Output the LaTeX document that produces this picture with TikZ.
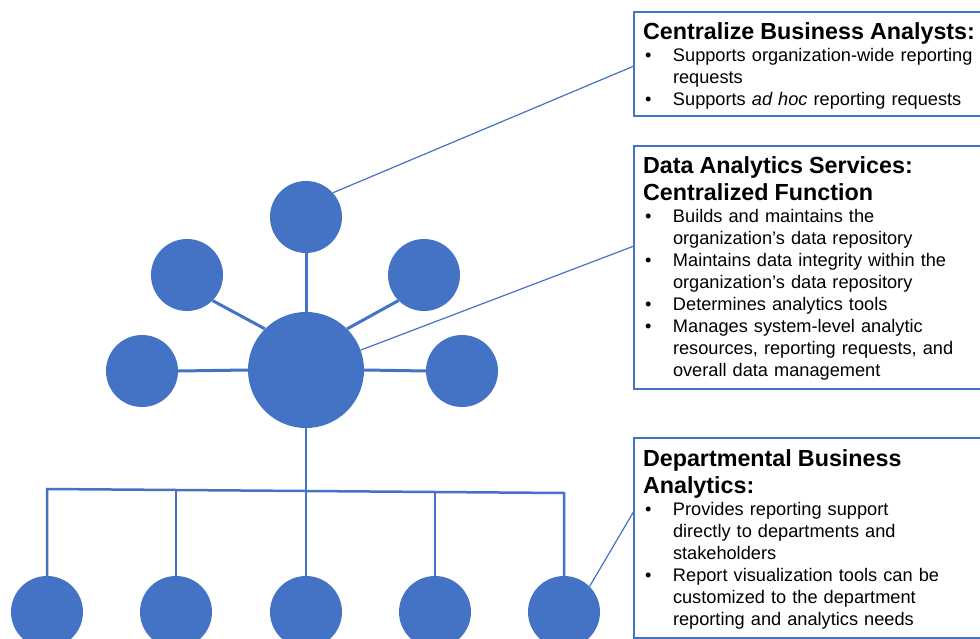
\documentclass[tikz,border=0pt]{standalone}
\usepackage{fontspec}
\setmainfont{Liberation Sans}
\definecolor{nodeblue}{HTML}{4472C4}
\newcommand{\boxhead}[1]{{\fontsize{23.3}{27}\selectfont\bfseries #1\par}}
\newcommand{\bitem}[1]{\par\hangindent=30pt\hangafter=1\noindent\makebox[30pt][l]{\hspace*{2pt}\textbullet}#1\par}

\begin{document}
\begin{tikzpicture}[x=1pt,y=-1pt,
  leaf/.style={circle,fill=nodeblue,minimum size=72pt,inner sep=0pt},
  hubnode/.style={circle,fill=nodeblue,minimum size=116pt,inner sep=0pt},
  spoke/.style={draw=nodeblue,line width=3pt},
  branch/.style={draw=nodeblue,line width=2.5pt},
  callout/.style={draw=nodeblue,line width=1.2pt},
  infobox/.style={draw=nodeblue,line width=1.2pt,anchor=north west,outer sep=0pt,
    inner xsep=9pt,inner ysep=0pt,text width=340pt,align=left,text height=28pt,
    font=\fontsize{18.2}{22}\selectfont}]
  \useasboundingbox (0,0) rectangle (980,639);

  \node[hubnode] (hub) at (306,370) {};
  \node[leaf] (top) at (306,217) {};
  \node[leaf] (upleft) at (187,275) {};
  \node[leaf] (upright) at (424,275) {};
  \node[leaf] (midleft) at (142,371) {};
  \node[leaf] (midright) at (462,371) {};
  \foreach \i/\x in {1/47,2/176,3/306,4/435,5/564}
    \node[leaf] (dept\i) at (\x,612) {};
  \foreach \i/\x/\y in {1/47/489,2/176/490,3/306/491,4/435/492,5/564/493}
    \coordinate (bus\i) at (\x,\y);

  \node[infobox,text depth=76pt] (boxBA) at (634,12) {%
    \boxhead{Centralize Business Analysts:}
    \bitem{Supports organization-wide reporting\newline requests}
    \bitem{Supports \textit{ad hoc} reporting requests}};
  \node[infobox,text depth=215pt] (boxDAS) at (634,146) {%
    \boxhead{Data Analytics Services:\newline Centralized Function}
    \bitem{Builds and maintains the\newline organization’s data repository}
    \bitem{Maintains data integrity within the\newline organization’s data repository}
    \bitem{Determines analytics tools}
    \bitem{Manages system-level analytic\newline resources, reporting requests, and\newline overall data management}};
  \node[infobox,text depth=172pt] (boxDBA) at (634,438) {%
    \boxhead{Departmental Business\newline Analytics:}
    \bitem{Provides reporting support\newline directly to departments and\newline stakeholders}
    \bitem{Report visualization tools can be\newline customized to the department\newline reporting and analytics needs}};

  \draw[spoke] (hub.north) -- (top.south);
  \draw[spoke] (hub.135) -- (upleft.-45);
  \draw[spoke] (hub.45) -- (upright.-135);
  \draw[spoke] (hub.west) -- (midleft.east);
  \draw[spoke] (hub.east) -- (midright.west);

  \draw[branch] (hub) -- (dept3);
  \draw[branch] (dept1) -- (bus1) -- (bus5) -- (dept5);
  \foreach \i in {2,4}
    \draw[branch] (bus\i) -- (dept\i);

  \draw[callout] (top.42) -- ([yshift=-54pt]boxBA.north west);
  \draw[callout] (hub.20) -- ([yshift=-100pt]boxDAS.north west);
  \draw[callout] (dept5.45) -- ([yshift=-73pt]boxDBA.north west);
\end{tikzpicture}
\end{document}
